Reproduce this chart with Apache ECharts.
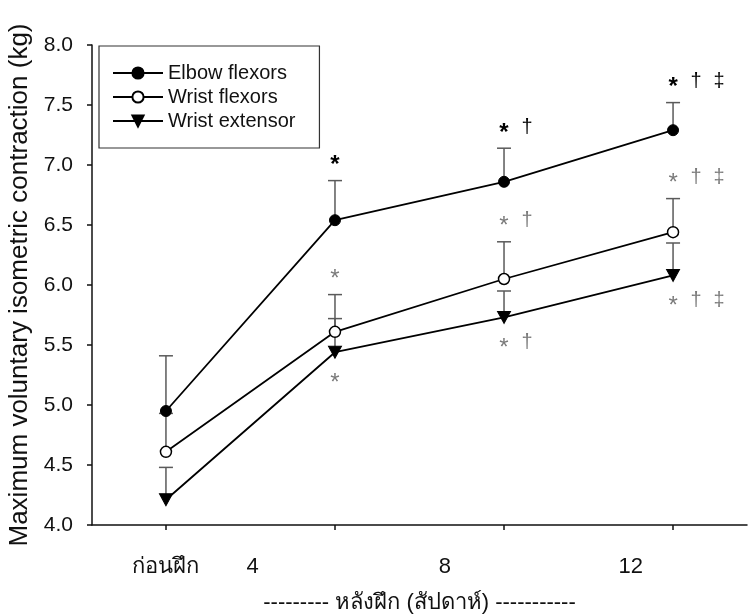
<!DOCTYPE html>
<html>
<head>
<meta charset="utf-8">
<script src="https://cdn.jsdelivr.net/npm/echarts@6/dist/echarts.min.js"></script>
<style>
  html, body { margin: 0; padding: 0; background: #fff; }
  #chart { width: 748px; height: 615px; }
</style>
</head>
<body>
<div id="chart"></div>
<script>
// weeks of training, 0 = before training
const weeks = [0, 4, 8, 12];
const tickLabels = ['ก่อนฝึก', '4', '8', '12'];

const elbowMean = [4.95, 6.54, 6.86, 7.29];
const elbowUpper = [5.41, 6.87, 7.14, 7.52];
const flexMean = [4.61, 5.61, 6.05, 6.44];
const flexUpper = [4.93, 5.92, 6.36, 6.72];
const extMean = [4.21, 5.44, 5.73, 6.08];
const extUpper = [4.48, 5.72, 5.95, 6.35];

const elbowMarks = ['', '*', '* †', '* † ‡'];
const flexMarks = ['', '*', '* †', '* † ‡'];
const extMarks = ['', '*', '* †', '* † ‡'];

// where the tick labels sit along the x axis (the figure places them off the ticks)
const labelAt = [0, 2.05, 6.6, 11];

const FONT = '"Liberation Sans", Arial, "Noto Sans", sans-serif';

const chart = echarts.init(document.getElementById('chart'));

function errorBarSeries(name, mean, upper) {
  return {
    name: name + ' SE',
    type: 'custom',
    z: 1,
    silent: true,
    data: weeks.map((w, i) => [w, mean[i], upper[i]]),
    renderItem(params, api) {
      const p0 = api.coord([api.value(0), api.value(1)]);
      const p1 = api.coord([api.value(0), api.value(2)]);
      const style = { stroke: '#5a5a5a', lineWidth: 1.5 };
      return {
        type: 'group',
        children: [
          { type: 'line', shape: { x1: p0[0], y1: p0[1], x2: p1[0], y2: p1[1] }, style },
          { type: 'line', shape: { x1: p1[0] - 7, y1: p1[1], x2: p1[0] + 7, y2: p1[1] }, style }
        ]
      };
    }
  };
}

function markSeries(anchor, marks, dy, color, bold) {
  return {
    type: 'custom',
    z: 5,
    silent: true,
    data: weeks.map((w, i) => [w, anchor[i]]),
    renderItem(params, api) {
      const p = api.coord([api.value(0), api.value(1)]);
      const parts = marks[params.dataIndex].split(' ').filter(s => s);
      return {
        type: 'group',
        children: parts.map((s, k) => ({
          type: 'text',
          x: p[0] + k * 23,
          y: p[1] + dy + (s === '*' ? 6 : 0),
          style: {
            text: s,
            fill: color,
            font: (bold && s === '*' ? 'bold ' : '') + (s === '*' ? '24px ' : '20px ') + FONT,
            align: 'center',
            verticalAlign: 'middle'
          }
        }))
      };
    }
  };
}

const lineCommon = {
  type: 'line',
  z: 3,
  lineStyle: { color: '#000', width: 1.8 },
  symbolSize: 11,
  showAllSymbol: true
};

const option = {
  backgroundColor: '#fff',
  animation: false,
  textStyle: { fontFamily: FONT },
  grid: {
    left: 92,
    right: 1,
    top: 45,
    bottom: 90,
    outerBoundsMode: 'none'
  },
  legend: {
    orient: 'vertical',
    left: 99,
    top: 46,
    data: ['Elbow flexors', 'Wrist flexors', 'Wrist extensor'],
    itemWidth: 50,
    itemHeight: 14,
    itemGap: 4,
    itemTextGap: 14,
    padding: [17, 24, 17, 13],
    borderColor: '#333',
    borderWidth: 1.2,
    borderRadius: 0,
    textStyle: { fontSize: 20, lineHeight: 20, color: '#111', fontFamily: FONT }
  },
  xAxis: {
    type: 'value',
    min: -1.75,
    max: 13.75,
    name: '--------- หลังฝึก (สัปดาห์) -----------',
    nameLocation: 'middle',
    nameGap: 67,
    nameTextStyle: { fontSize: 22, color: '#111', fontFamily: FONT },
    axisLine: { onZero: false, lineStyle: { color: '#111', width: 1.5 } },
    axisTick: {
      customValues: weeks,
      length: 5,
      lineStyle: { color: '#111', width: 1.5 }
    },
    axisLabel: {
      customValues: labelAt,
      margin: 31,
      fontSize: 22,
      color: '#111',
      fontFamily: FONT,
      formatter: v => tickLabels[labelAt.indexOf(v)]
    },
    splitLine: { show: false }
  },
  yAxis: {
    type: 'value',
    min: 4,
    max: 8,
    interval: 0.5,
    name: 'Maximum voluntary isometric contraction (kg)',
    nameLocation: 'middle',
    nameGap: 52,
    nameTextStyle: { fontSize: 26, color: '#111', fontFamily: FONT },
    axisLine: { show: true, onZero: false, lineStyle: { color: '#111', width: 1.5 } },
    axisTick: { show: true, length: 5, lineStyle: { color: '#111', width: 1.5 } },
    axisLabel: {
      margin: 19,
      fontSize: 21,
      color: '#111',
      fontFamily: FONT,
      formatter: v => v.toFixed(1)
    },
    splitLine: { show: false }
  },
  series: [
    errorBarSeries('Elbow flexors', elbowMean, elbowUpper),
    errorBarSeries('Wrist flexors', flexMean, flexUpper),
    errorBarSeries('Wrist extensor', extMean, extUpper),
    Object.assign({}, lineCommon, {
      name: 'Elbow flexors',
      symbol: 'circle',
      itemStyle: { color: '#000', borderColor: '#000', borderWidth: 1 },
      data: weeks.map((w, i) => [w, elbowMean[i]])
    }),
    Object.assign({}, lineCommon, {
      name: 'Wrist flexors',
      symbol: 'circle',
      itemStyle: { color: '#fff', borderColor: '#000', borderWidth: 1.5 },
      data: weeks.map((w, i) => [w, flexMean[i]])
    }),
    Object.assign({}, lineCommon, {
      name: 'Wrist extensor',
      symbol: 'triangle',
      symbolRotate: 180,
      symbolSize: [13, 12],
      itemStyle: { color: '#000', borderColor: '#000', borderWidth: 1 },
      data: weeks.map((w, i) => [w, extMean[i]])
    }),
    markSeries(elbowUpper, elbowMarks, -21, '#000', true),
    markSeries(flexUpper, flexMarks, -21, '#7a7a7a', false),
    markSeries(extMean, extMarks, 25, '#7a7a7a', false)
  ]
};

chart.setOption(option);
</script>
</body>
</html>
